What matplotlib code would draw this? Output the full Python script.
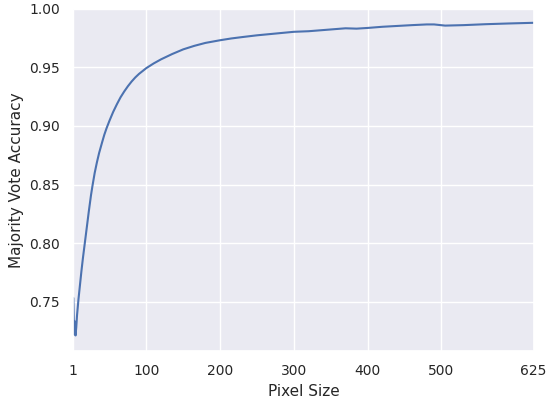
import matplotlib
matplotlib.use("Agg")
import matplotlib.pyplot as plt
import seaborn as sns

pixel_size = [1, 2, 3, 4, 5, 6, 7, 8, 10, 12, 14, 16, 18, 20, 22, 25, 27, 30, 33, 36, 40,
              43, 46, 50, 55, 60, 65, 70, 75, 80, 85, 90, 95, 100, 110, 120, 135, 150,
              165, 180, 200, 215, 230, 250, 275, 300, 320, 340, 360, 370, 385, 400, 420,
              440, 460, 480, 490, 505, 530, 560, 590, 625]
accuracy = [0.753, 0.722, 0.733, 0.721, 0.728, 0.738, 0.745, 0.752, 0.764, 0.776, 0.787,
            0.797, 0.807, 0.817, 0.827, 0.841, 0.849, 0.860, 0.869, 0.877, 0.886,
            0.8925, 0.898, 0.9045, 0.912, 0.9185, 0.9245, 0.9295, 0.934, 0.938, 0.9415,
            0.9445, 0.947, 0.9495, 0.9535, 0.957, 0.9615, 0.9655, 0.9685, 0.971, 0.9733,
            0.9748, 0.976, 0.9775, 0.979, 0.9805, 0.981, 0.982, 0.983, 0.9835, 0.9832,
            0.9838, 0.9848, 0.9855, 0.9862, 0.9868, 0.9868, 0.9858, 0.9862, 0.987,
            0.9876, 0.9882]
x_ticks = [1, 100, 200, 300, 400, 500, 625]
y_ticks = [0.75, 0.80, 0.85, 0.90, 0.95, 1.00]

sns.set_theme(style="darkgrid")
fig = plt.figure(figsize=(5.5, 4.03), dpi=100)
ax = fig.add_axes([0.1333, 0.129, 0.837, 0.8487])
ax.plot(pixel_size, accuracy, color="#4c72b0", linewidth=1.5)
ax.set_xlim(1, 625)
ax.set_ylim(0.7077, 1.0)
ax.set_xticks(x_ticks)
ax.set_yticks(y_ticks)
ax.set_yticklabels([f"{v:.2f}" for v in y_ticks])
ax.tick_params(labelsize=10, colors="#262626")
ax.set_xlabel("Pixel Size", fontsize=11, color="#262626")
ax.set_ylabel("Majority Vote Accuracy", fontsize=11, color="#262626")
fig.savefig("out.png", dpi=100)
